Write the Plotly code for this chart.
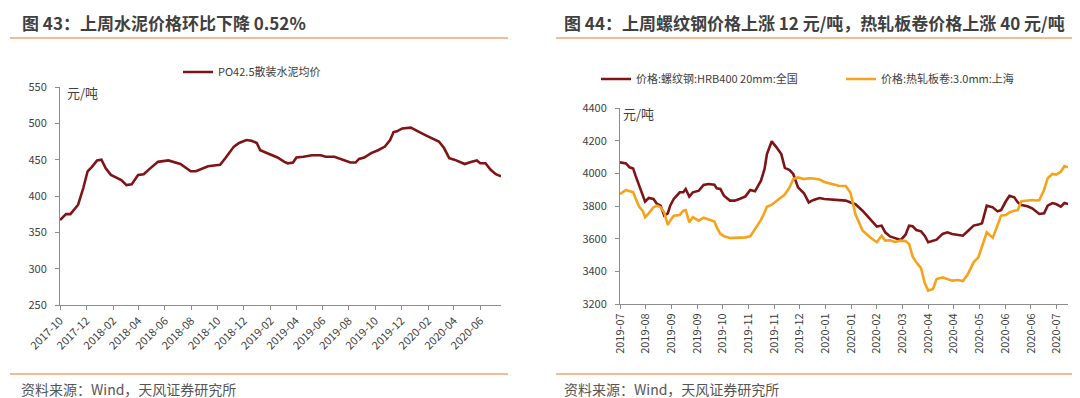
import plotly.graph_objects as go
import pandas as pd

# ---------------- Left chart data: PO42.5 cement price ----------------
cement_dates = [
    "2017-10-01", "2017-10-15", "2017-10-25", "2017-11-12", "2017-11-24", "2017-12-04",
    "2017-12-14", "2017-12-26", "2018-01-05", "2018-01-15", "2018-01-27", "2018-02-08",
    "2018-02-20", "2018-03-04", "2018-03-16", "2018-03-31", "2018-04-13", "2018-04-26",
    "2018-05-16", "2018-06-09", "2018-07-07", "2018-07-31", "2018-08-12", "2018-09-09",
    "2018-10-07", "2018-10-19", "2018-10-31", "2018-11-08", "2018-11-20", "2018-12-07",
    "2018-12-19", "2018-12-31", "2019-01-08", "2019-01-20", "2019-02-01", "2019-02-17",
    "2019-03-05", "2019-03-13", "2019-03-25", "2019-04-02", "2019-04-18", "2019-05-08",
    "2019-05-28", "2019-06-09", "2019-06-29", "2019-07-12", "2019-07-24", "2019-08-05",
    "2019-08-17", "2019-08-25", "2019-09-06", "2019-09-22", "2019-10-08", "2019-10-24",
    "2019-11-05", "2019-11-13", "2019-11-21", "2019-12-03", "2019-12-23", "2019-12-31",
    "2020-01-12", "2020-01-28", "2020-02-13", "2020-02-26", "2020-03-09", "2020-03-21",
    "2020-04-02", "2020-04-14", "2020-04-26", "2020-05-12", "2020-05-24", "2020-06-01",
    "2020-06-13", "2020-06-25", "2020-07-07", "2020-07-19",
]
cement_price = [
    367, 375, 375, 388, 411, 434,
    440, 449, 450, 438, 429, 425,
    422, 415, 416, 429, 430, 437,
    447, 449, 444, 434, 434, 441,
    443, 452, 461, 468, 473, 477,
    476, 473, 463, 460, 457, 453,
    447, 445, 446, 453, 454, 456,
    456, 454, 454, 451, 448, 446,
    446, 451, 453, 459, 463, 468,
    477, 488, 489, 493, 494, 492,
    488, 483, 479, 475, 466, 452,
    450, 447, 444, 447, 449, 445,
    445, 436, 430, 427,
]

# ---------------- Right chart data: steel prices ----------------
steel_dates = [
    "2019-07-21", "2019-07-26", "2019-07-29", "2019-08-01", "2019-08-03", "2019-08-06",
    "2019-08-09", "2019-08-11", "2019-08-14", "2019-08-18", "2019-08-21", "2019-08-24",
    "2019-08-27", "2019-08-30", "2019-09-01", "2019-09-04", "2019-09-09", "2019-09-12",
    "2019-09-14", "2019-09-17", "2019-09-20", "2019-09-25", "2019-09-29", "2019-10-03",
    "2019-10-08", "2019-10-10", "2019-10-13", "2019-10-16", "2019-10-21", "2019-10-25",
    "2019-10-29", "2019-11-03", "2019-11-07", "2019-11-11", "2019-11-16", "2019-11-19",
    "2019-11-21", "2019-11-25", "2019-11-29", "2019-12-03", "2019-12-06", "2019-12-10",
    "2019-12-13", "2019-12-17", "2019-12-22", "2019-12-26", "2019-12-30", "2020-01-04",
    "2020-01-08", "2020-01-14", "2020-01-20", "2020-01-26", "2020-01-30", "2020-02-03",
    "2020-02-09", "2020-02-15", "2020-02-21", "2020-02-25", "2020-02-28", "2020-03-03",
    "2020-03-07", "2020-03-12", "2020-03-16", "2020-03-19", "2020-03-22", "2020-03-25",
    "2020-03-29", "2020-04-01", "2020-04-04", "2020-04-08", "2020-04-11", "2020-04-16",
    "2020-04-20", "2020-04-24", "2020-04-29", "2020-05-03", "2020-05-07", "2020-05-12",
    "2020-05-16", "2020-05-19", "2020-05-23", "2020-05-28", "2020-06-01", "2020-06-04",
    "2020-06-08", "2020-06-11", "2020-06-15", "2020-06-18", "2020-06-21", "2020-06-26",
    "2020-06-30", "2020-07-03", "2020-07-06", "2020-07-10", "2020-07-13", "2020-07-17",
    "2020-07-20", "2020-07-24", "2020-07-27", "2020-07-30",
]
rebar_price = [
    4067, 4061, 4037, 4030, 3986, 3925,
    3873, 3827, 3849, 3843, 3812, 3802,
    3741, 3755, 3802, 3843, 3884, 3884,
    3904, 3857, 3884, 3894, 3929, 3935,
    3931, 3908, 3904, 3863, 3833, 3833,
    3843, 3859, 3898, 3890, 3955, 4027,
    4118, 4196, 4159, 4118, 4033, 4020,
    3996, 3914, 3878, 3822, 3837, 3849,
    3843, 3839, 3837, 3833, 3822, 3812,
    3771, 3720, 3674, 3680, 3639, 3614,
    3604, 3592, 3624, 3680, 3676, 3653,
    3645, 3618, 3578, 3588, 3594, 3629,
    3639, 3629, 3624, 3618, 3645, 3680,
    3686, 3694, 3802, 3792, 3767, 3775,
    3829, 3863, 3853, 3822, 3806, 3798,
    3786, 3771, 3751, 3755, 3802, 3818,
    3812, 3796, 3818, 3812,
]
hrc_price = [
    3873, 3898, 3890, 3885, 3848, 3797,
    3770, 3731, 3755, 3792, 3802, 3792,
    3761, 3684, 3710, 3741, 3745, 3771,
    3775, 3700, 3731, 3710, 3728, 3718,
    3705, 3669, 3629, 3615, 3604, 3605,
    3606, 3608, 3614, 3659, 3715, 3760,
    3795, 3808, 3833, 3853, 3870, 3915,
    3965, 3975, 3965, 3970, 3968, 3962,
    3947, 3935, 3924, 3922, 3880, 3751,
    3650, 3610, 3578, 3618, 3588, 3590,
    3580, 3588, 3585, 3567, 3490, 3455,
    3420, 3330, 3282, 3292, 3353, 3363,
    3355, 3343, 3347, 3340, 3380, 3455,
    3486, 3547, 3639, 3605, 3680, 3741,
    3745, 3761, 3771, 3775, 3830, 3833,
    3837, 3834, 3836, 3900, 3970, 3996,
    3992, 4010, 4045, 4037,
]
steel_tick_labels = [
    "2019-07", "2019-08", "2019-09", "2019-09", "2019-10", "2019-11", "2019-11",
    "2019-12", "2020-01", "2020-01", "2020-02", "2020-03", "2020-04", "2020-04",
    "2020-05", "2020-06", "2020-06", "2020-07",
]

# ---------------- Text ----------------
title_left = "图 43：上周水泥价格环比下降 0.52%"
title_right = "图 44：上周螺纹钢价格上涨 12 元/吨，热轧板卷价格上涨 40 元/吨"
source_text = "资料来源：Wind，天风证券研究所"
unit_text = "元/吨"
name_cement = "PO42.5散装水泥均价"
name_rebar = "价格:螺纹钢:HRB400 20mm:全国"
name_hrc = "价格:热轧板卷:3.0mm:上海"

# ---------------- Style ----------------
W, H = 1080, 398
FONT = "Noto Sans CJK SC"
DARK_RED = "#7E1416"
ORANGE = "#F7A21B"
RULE = "#EDA768"
AXIS = "#8C8C8C"
TEXT = "#404040"

def px(x):
    return x / W

def py(y):
    return 1 - y / H

steel_ticks = pd.date_range("2019-07-21", periods=len(steel_tick_labels), freq="516h")

fig = go.Figure()
fig.add_trace(go.Scatter(
    x=cement_dates, y=cement_price, name=name_cement, mode="lines",
    line=dict(color=DARK_RED, width=2.6), xaxis="x", yaxis="y", legend="legend",
))
fig.add_trace(go.Scatter(
    x=steel_dates, y=rebar_price, name=name_rebar, mode="lines",
    line=dict(color=DARK_RED, width=2.6), xaxis="x2", yaxis="y2", legend="legend2",
))
fig.add_trace(go.Scatter(
    x=steel_dates, y=hrc_price, name=name_hrc, mode="lines",
    line=dict(color=ORANGE, width=2.6), xaxis="x2", yaxis="y2", legend="legend3",
))

axis_common = dict(
    showgrid=False, zeroline=False, showline=True, linecolor=AXIS, linewidth=1,
    ticks="outside", ticklen=4, tickcolor=AXIS, tickwidth=1, automargin=False,
    tickfont=dict(family=FONT, size=11, color=TEXT),
)
legend_common = dict(
    orientation="h", xanchor="left", yanchor="middle",
    font=dict(family=FONT, size=11, color=TEXT), bgcolor="rgba(0,0,0,0)",
    borderwidth=0,
)

fig.update_layout(
    template="none",
    width=W, height=H, autosize=False,
    margin=dict(l=0, r=0, t=0, b=0, pad=0, autoexpand=False),
    paper_bgcolor="white", plot_bgcolor="white",
    font=dict(family=FONT, color=TEXT),
    xaxis=dict(
        **axis_common, type="date", domain=[px(52), px(493)],
        range=[cement_dates[0], cement_dates[-1]],
        tick0="2017-10-01", dtick="M2", tickformat="%Y-%m", tickangle=-45,
        anchor="y",
    ),
    yaxis=dict(
        **axis_common, domain=[py(297), py(79)], range=[250, 550], dtick=50,
        anchor="x", ticklabelstandoff=6,
    ),
    xaxis2=dict(
        **axis_common, type="date", domain=[px(612), px(1060)],
        range=[steel_dates[0], steel_dates[-1]],
        tickmode="array", tickvals=list(steel_ticks), ticktext=steel_tick_labels,
        tickangle=-90, anchor="y2",
    ),
    yaxis2=dict(
        **axis_common, domain=[py(296), py(100)], range=[3200, 4400], dtick=200,
        anchor="x2", ticklabelstandoff=6,
    ),
    legend=dict(**legend_common, x=px(170), y=py(64)),
    legend2=dict(**legend_common, x=px(588), y=py(71)),
    legend3=dict(**legend_common, x=px(833), y=py(71)),
    showlegend=True,
)

annotations = [
    dict(text=f"<b>{title_left}</b>", x=px(12), y=py(14), xanchor="left", yanchor="middle",
         font=dict(family=FONT, size=17, color=TEXT)),
    dict(text=f"<b>{title_right}</b>", x=px(554), y=py(14), xanchor="left", yanchor="middle",
         font=dict(family=FONT, size=17, color=TEXT)),
    dict(text=source_text, x=px(11), y=py(381), xanchor="left", yanchor="middle",
         font=dict(family=FONT, size=14, color="#555555")),
    dict(text=source_text, x=px(554), y=py(381), xanchor="left", yanchor="middle",
         font=dict(family=FONT, size=14, color="#555555")),
    dict(text=unit_text, x=px(57), y=py(85), xanchor="left", yanchor="middle",
         font=dict(family=FONT, size=13, color=TEXT)),
    dict(text=unit_text, x=px(613), y=py(106), xanchor="left", yanchor="middle",
         font=dict(family=FONT, size=13, color=TEXT)),
]
for a in annotations:
    a.update(xref="paper", yref="paper", showarrow=False)
fig.update_layout(annotations=annotations)

shapes = []
for x0, x1 in [(2, 500), (548, 1078)]:
    for yy in (30, 366):
        shapes.append(dict(type="line", xref="paper", yref="paper",
                           x0=px(x0), x1=px(x1), y0=py(yy), y1=py(yy),
                           line=dict(color=RULE, width=1.5)))
fig.update_layout(shapes=shapes)

fig.write_html("out.html")
